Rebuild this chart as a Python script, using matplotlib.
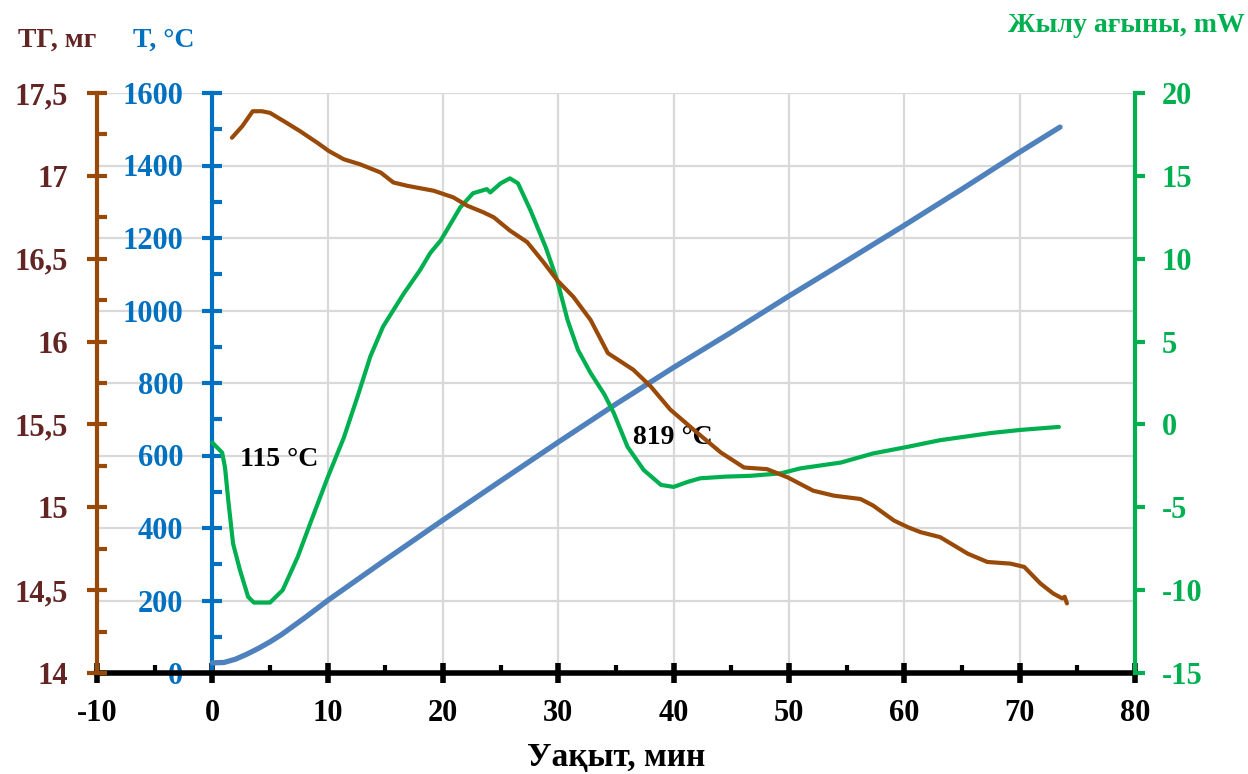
import matplotlib
matplotlib.use("Agg")
import matplotlib.pyplot as plt
from matplotlib.ticker import MultipleLocator, FixedLocator

# температура пеші, °C
t_temp = [0, 1, 2, 3, 4, 5, 6, 8, 10, 15, 20, 25, 30, 35, 40, 45, 50, 55, 60, 65, 70, 73.5]
temp = [28, 29, 38, 52, 68, 86, 106, 152, 200, 312, 422, 530, 637, 742, 843, 940, 1040, 1137, 1235, 1335, 1437, 1506]

# жылу ағыны, mW
t_hf = [0, 0.85, 1.1, 1.4, 1.8, 2.4, 3.1, 3.6, 5.0, 6.1, 7.4, 8.5, 10.0, 11.4, 12.6, 13.7,
        14.8, 16.6, 18.0, 18.9, 19.8, 21.5, 22.6, 23.8, 24.1, 25.0, 25.8, 26.5, 27.6, 28.9,
        29.9, 30.8, 31.7, 32.8, 34.0, 34.8, 36.0, 37.4, 38.9, 40.0, 41.2, 42.3, 44.5, 46.7,
        49.3, 51.0, 54.5, 57.3, 60.3, 63.1, 67.5, 70.1, 73.4]
hf = [-1.1, -1.7, -2.6, -4.7, -7.2, -8.8, -10.4, -10.75, -10.75, -10.0, -8.0, -5.95, -3.2,
      -0.8, 1.7, 4.1, 5.9, 7.9, 9.3, 10.35, 11.1, 13.1, 13.95, 14.2, 14.0, 14.55, 14.85,
      14.55, 12.9, 10.7, 8.7, 6.3, 4.5, 3.1, 1.8, 0.7, -1.35, -2.75, -3.65, -3.77, -3.47,
      -3.25, -3.15, -3.1, -2.95, -2.65, -2.3, -1.75, -1.35, -0.95, -0.52, -0.33, -0.15]

# масса (ТГ), мг
t_tg = [1.7, 2.6, 3.5, 4.3, 5.0, 6.2, 7.6, 9.1, 10.1, 11.4, 12.8, 14.6, 15.7, 16.9, 19.2,
        20.9, 22.1, 23.5, 24.4, 25.8, 27.3, 28.7, 29.9, 31.3, 32.8, 34.3, 36.5, 38.0, 39.7,
        41.7, 44.1, 46.1, 48.1, 49.9, 52.1, 53.9, 56.2, 57.3, 59.1, 60.3, 61.4, 63.1, 64.3,
        65.5, 67.2, 69.2, 70.4, 71.8, 72.9, 73.7, 73.9, 74.1]
tg = [17.23, 17.30, 17.39, 17.39, 17.38, 17.33, 17.27, 17.20, 17.15, 17.10, 17.07, 17.02,
      16.96, 16.94, 16.91, 16.87, 16.82, 16.78, 16.75, 16.67, 16.60, 16.48, 16.37, 16.27,
      16.13, 15.93, 15.83, 15.73, 15.59, 15.47, 15.33, 15.24, 15.23, 15.18, 15.10, 15.07,
      15.05, 15.01, 14.92, 14.88, 14.85, 14.82, 14.77, 14.72, 14.67, 14.66, 14.64, 14.54,
      14.48, 14.45, 14.46, 14.42]

tg_ticks = [14, 14.5, 15, 15.5, 16, 16.5, 17, 17.5]
tg_labels = ["14", "14,5", "15", "15,5", "16", "16,5", "17", "17,5"]
x_ticks = [-10, 0, 10, 20, 30, 40, 50, 60, 70, 80]
temp_ticks = [0, 200, 400, 600, 800, 1000, 1200, 1400, 1600]
hf_ticks = [-15, -10, -5, 0, 5, 10, 15, 20]

plt.rcParams['font.family'] = ['Liberation Serif', 'DejaVu Serif']
plt.rcParams['font.weight'] = 'bold'
plt.rcParams['axes.unicode_minus'] = False

BLUE = '#0070C0'
BROWN = '#984807'
MAROON = '#632523'
GREEN = '#00B050'
FS = 22

fig = plt.figure(figsize=(12.48, 7.74), dpi=100)
ax = fig.add_axes([97 / 1248, 101 / 774, 1038 / 1248, 580 / 774])
ax.set_facecolor('none')

# негізгі ось: уақыт және температура
ax.set_xlim(-10, 80)
ax.set_ylim(0, 1600)
ax.set_xticks(x_ticks)
ax.set_yticks(temp_ticks)
ax.xaxis.set_minor_locator(MultipleLocator(5))
ax.yaxis.set_minor_locator(MultipleLocator(100))
ax.grid(True, which='major', color='#D9D9D9', linewidth=1.6)
ax.set_axisbelow(True)

ax.spines['top'].set_visible(False)
ax.spines['right'].set_visible(False)
ax.spines['left'].set_position(('data', 0))
ax.spines['left'].set_color(BLUE)
ax.spines['left'].set_linewidth(3)
ax.spines['bottom'].set_color('black')
ax.spines['bottom'].set_linewidth(4)
ax.spines['bottom'].set_zorder(5)

ax.tick_params(axis='x', which='major', direction='inout', length=14, width=4,
               labelsize=FS, pad=12, colors='black')
ax.tick_params(axis='x', which='minor', direction='in', length=6, width=3)
ax.tick_params(axis='y', which='major', direction='inout', length=14, width=3,
               labelsize=FS, pad=14, colors=BLUE, labelcolor=BLUE)
ax.tick_params(axis='y', which='minor', direction='in', length=7, width=3, colors=BLUE)

line_kw = dict(solid_capstyle='round', solid_joinstyle='round')
ax.plot(t_temp, temp, color='#4F81BD', linewidth=3.8, zorder=3, **line_kw)

# жылу ағыны осі (оң жақ)
ax_hf = ax.twinx()
ax_hf.set_ylim(-15, 20)
ax_hf.set_yticks(hf_ticks)
for s in ['top', 'left', 'bottom']:
    ax_hf.spines[s].set_visible(False)
ax_hf.spines['right'].set_color(GREEN)
ax_hf.spines['right'].set_linewidth(3)
ax_hf.tick_params(axis='y', which='major', direction='out', length=7, width=3,
                  colors=GREEN, labelcolor=GREEN, labelsize=FS, pad=12)
ax_hf.plot(t_hf, hf, color=GREEN, linewidth=3, **line_kw)

# ТГ осі (сол жақ шеті)
ax_tg = ax.twinx()
ax_tg.set_ylim(14, 17.5)
ax_tg.yaxis.tick_left()
ax_tg.yaxis.set_label_position('left')
ax_tg.yaxis.set_major_locator(FixedLocator(tg_ticks))
ax_tg.set_yticklabels(tg_labels)
ax_tg.yaxis.set_minor_locator(MultipleLocator(0.25))
for s in ['top', 'right', 'bottom']:
    ax_tg.spines[s].set_visible(False)
ax_tg.spines['left'].set_visible(True)
ax_tg.spines['left'].set_color(BROWN)
ax_tg.spines['left'].set_linewidth(3)
ax_tg.tick_params(axis='y', which='major', direction='inout', length=14, width=3,
                  colors=BROWN, labelcolor=MAROON, labelsize=FS, pad=14)
ax_tg.tick_params(axis='y', which='minor', direction='in', length=7, width=3, colors=BROWN)
ax_tg.plot(t_tg, tg, color='#9A4A08', linewidth=3, **line_kw)

# шыңдардағы температура
ax.text(2.4, 588, "115 °C", fontsize=20, fontweight='bold', color='black',
        ha='left', va='center', zorder=6)
ax.text(36.5, 651, "819 °C", fontsize=20, fontweight='bold', color='black',
        ha='left', va='center', zorder=6)

# ось атаулары
fig.text(57 / 1248, 1 - 40 / 774, "ТГ, мг", fontsize=20, fontweight='bold',
         color=MAROON, ha='center', va='center')
fig.text(164 / 1248, 1 - 40 / 774, "T, °C", fontsize=20, fontweight='bold',
         color=BLUE, ha='center', va='center')
fig.text(1245 / 1248, 1 - 25 / 774, "Жылу ағыны, mW", fontsize=20, fontweight='bold',
         color=GREEN, ha='right', va='center')
fig.text(616 / 1248, 1 - 757 / 774, "Уақыт, мин", fontsize=24, fontweight='bold',
         color='black', ha='center', va='center')

fig.savefig("out.png", dpi=100)
